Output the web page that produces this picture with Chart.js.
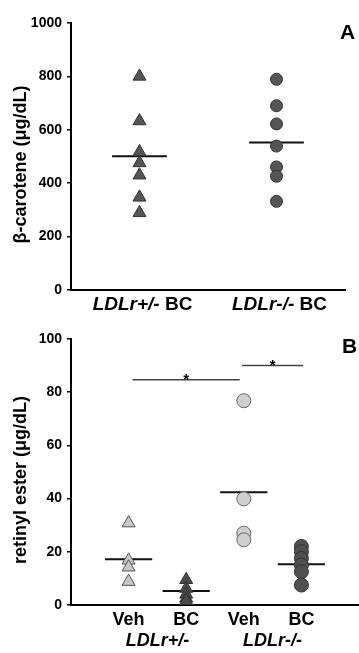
<!DOCTYPE html>
<html>
<head>
<meta charset="utf-8">
<script src="https://cdn.jsdelivr.net/npm/chart.js@4"></script>
<style>
  body { margin: 0; background: #fff; }
  canvas { position: absolute; left: 0; }
  #chartA { top: 0; }
  #chartB { top: 318px; }
</style>
</head>
<body>
<canvas id="chartA" width="359" height="318"></canvas>
<canvas id="chartB" width="359" height="335"></canvas>
<script>
const FONT = '"Liberation Sans", Arial, sans-serif';

// Panel A - plasma beta-carotene (ug/dL), BC fed
const groupsA = ['LDLr+/-', 'LDLr-/-'];
const hetBC = [800, 633, 517, 476, 430, 347, 289];
const koBC = [789, 690, 622, 539, 461, 426, 332];
const meansA = [501, 552];

// Panel B - plasma retinyl ester (ug/dL)
const genotypesB = ['LDLr+/-', 'LDLr-/-'];
const dietsB = ['Veh', 'BC', 'Veh', 'BC'];
const hetVeh = [30.8, 16.8, 14.2, 8.8];
const hetBCre = [9.5, 6.2, 4.0, 2.5, 1.5];
const koVeh = [76.8, 39.9, 27.0, 24.5];
const koBCre = [22, 20, 17.5, 15, 12.5, 7.5];
const meansB = [17.2, 5.3, 42.4, 15.3];
const sigB = [[1.07, 2.93, 84.7], [2.97, 4.03, 90]]; // from, to, y

const pts = (vals, x) => vals.map(y => ({x, y}));
const meanLine = (x, m, half) => ({
  type: 'line',
  data: [{x: x - half, y: m}, {x: x + half, y: m}],
  borderColor: '#111', borderWidth: 2, pointRadius: 0
});
const marks = (vals, x, style, fill, edge, r) => ({
  type: 'scatter',
  data: pts(vals, x),
  pointStyle: style, pointRadius: r,
  backgroundColor: fill, borderColor: edge, borderWidth: 1
});

function yScale(max, step) {
  return {
    min: 0, max: max,
    ticks: {stepSize: step, color: '#000', padding: 5, callback: v => String(v),
            font: {family: FONT, size: 14, weight: 'bold'}},
    grid: {display: true, drawOnChartArea: false, drawTicks: true, tickLength: 4,
           color: '#000', lineWidth: 1.5},
    border: {display: true, color: '#000', width: 2},
    afterFit(s) { s.width = 71; }
  };
}
function xScale(min, max, h) {
  return {
    type: 'linear', min: min, max: max,
    ticks: {display: false},
    grid: {display: false},
    border: {display: true, color: '#000', width: 2},
    afterFit(s) { s.height = h; }
  };
}

// rotated y title, a little below the middle of the axis like the original
function yTitle(chart, text) {
  const {ctx, chartArea} = chart;
  ctx.save();
  ctx.translate(21, (chartArea.top + chartArea.bottom) / 2 + 8);
  ctx.rotate(-Math.PI / 2);
  ctx.font = 'bold 18px ' + FONT;
  ctx.fillStyle = '#000';
  ctx.textAlign = 'center';
  ctx.textBaseline = 'middle';
  ctx.fillText(text, 0, 0);
  ctx.restore();
}

const labelsA = {
  id: 'labelsA',
  afterDraw(chart) {
    const {ctx, scales: {x}} = chart;
    const it = 'italic bold 19px ' + FONT, bd = 'bold 19px ' + FONT;
    yTitle(chart, 'β-carotene (μg/dL)');
    ctx.save();
    ctx.fillStyle = '#000';
    ctx.textBaseline = 'middle';
    ctx.textAlign = 'left';
    groupsA.forEach((g, i) => {
      ctx.font = it; const w1 = ctx.measureText(g).width;
      ctx.font = bd; const w2 = ctx.measureText(' BC').width;
      const left = x.getPixelForValue(i + 1) + 3 - (w1 + w2) / 2;
      ctx.font = it; ctx.fillText(g, left, 305);
      ctx.font = bd; ctx.fillText(' BC', left + w1, 305);
    });
    ctx.font = 'bold 21px ' + FONT;
    ctx.fillText('A', 340, 33);
    ctx.restore();
  }
};

const labelsB = {
  id: 'labelsB',
  afterDraw(chart) {
    const {ctx, scales: {x, y}} = chart;
    yTitle(chart, 'retinyl ester (μg/dL)');
    ctx.save();
    ctx.fillStyle = '#000';
    ctx.textAlign = 'center';
    ctx.textBaseline = 'middle';
    ctx.font = 'bold 18px ' + FONT;
    dietsB.forEach((d, i) => ctx.fillText(d, x.getPixelForValue(i + 1), 302));
    ctx.font = 'italic bold 18px ' + FONT;
    genotypesB.forEach((g, i) => ctx.fillText(g, x.getPixelForValue(2 * i + 1.5), 323));
    // significance stars
    ctx.font = 'bold 15px ' + FONT;
    ctx.textBaseline = 'alphabetic';
    sigB.forEach(s => ctx.fillText('*', x.getPixelForValue((s[0] + s[1]) / 2), y.getPixelForValue(s[2]) + 4));
    ctx.textAlign = 'left';
    ctx.font = 'bold 21px ' + FONT;
    ctx.textBaseline = 'middle';
    ctx.fillText('B', 342, 29);
    ctx.restore();
  }
};

new Chart(document.getElementById('chartA'), {
  type: 'scatter',
  data: {
    datasets: [
      marks(hetBC, 1, 'triangle', '#555', '#333', 7.5),
      marks(koBC, 2, 'circle', '#555', '#333', 6),
      meanLine(1, meansA[0], 0.2),
      meanLine(2, meansA[1], 0.2)
    ]
  },
  options: {
    responsive: false, animation: false, events: [],
    layout: {autoPadding: false, padding: {top: 23, right: 14, left: 0, bottom: 0}},
    plugins: {legend: {display: false}, tooltip: {enabled: false}},
    scales: {
      x: xScale(0.5, 2.5, 28),
      y: yScale(1000, 200)
    }
  },
  plugins: [labelsA]
});

const sigSets = sigB.map(s => ({
  type: 'line',
  data: [{x: s[0], y: s[2]}, {x: s[1], y: s[2]}],
  borderColor: '#444', borderWidth: 1.5, pointRadius: 0
}));

new Chart(document.getElementById('chartB'), {
  type: 'scatter',
  data: {
    datasets: [
      marks(hetVeh, 1, 'triangle', '#c8c8c8', '#555', 7.5),
      marks(hetBCre, 2, 'triangle', '#4a4a4a', '#333', 7.5),
      marks(koVeh, 3, 'circle', '#cfcfcf', '#666', 7),
      marks(koBCre, 4, 'circle', '#505050', '#333', 7),
      meanLine(1, meansB[0], 0.41),
      meanLine(2, meansB[1], 0.41),
      meanLine(3, meansB[2], 0.41),
      meanLine(4, meansB[3], 0.41),
      ...sigSets
    ]
  },
  options: {
    responsive: false, animation: false, events: [],
    layout: {autoPadding: false, padding: {top: 21, right: 0, left: 0, bottom: 0}},
    plugins: {legend: {display: false}, tooltip: {enabled: false}},
    scales: {
      x: xScale(0, 5, 48),
      y: yScale(100, 20)
    }
  },
  plugins: [labelsB]
});
</script>
</body>
</html>
